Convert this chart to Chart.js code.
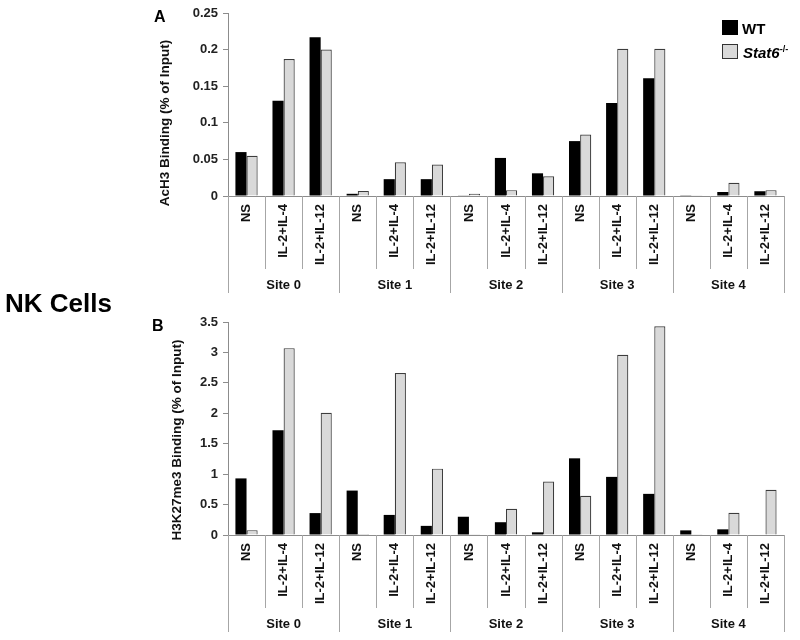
<!DOCTYPE html>
<html>
<head>
<meta charset="utf-8">
<script src="https://cdn.jsdelivr.net/npm/chart.js@4.4.1/dist/chart.umd.min.js"></script>
<style>
  body { margin: 0; background: #fff; width: 800px; height: 640px; position: relative; overflow: hidden;
         font-family: "Liberation Sans", Arial, sans-serif; }
  canvas { position: absolute; left: 0; }
  #chartA { top: 0; }
  #chartB { top: 308px; }
  .lbl { position: absolute; font-weight: bold; line-height: 1; color: #000; white-space: nowrap; }
  .box { position: absolute; width: 16px; height: 15px; box-sizing: border-box; }
</style>
</head>
<body>
<canvas id="chartA" width="800" height="320"></canvas>
<canvas id="chartB" width="800" height="332"></canvas>

<div class="lbl" style="left:154px; top:9px; font-size:16px;">A</div>
<div class="lbl" style="left:152px; top:318px; font-size:16px;">B</div>
<div class="lbl" style="left:5px; top:290px; font-size:26px;">NK Cells</div>

<div class="box" style="left:722px; top:20px; background:#000;"></div>
<div class="lbl" style="left:742px; top:21px; font-size:15px;">WT</div>
<div class="box" style="left:722px; top:44px; background:#d9d9d9; border:1.5px solid #333;"></div>
<div class="lbl" style="left:743px; top:45px; font-size:15px;"><i>Stat6</i><sup style="font-size:9px; vertical-align:6px;">-/-</sup></div>

<script>
const SITES = ['Site 0', 'Site 1', 'Site 2', 'Site 3', 'Site 4'];
const TREATMENTS = ['NS', 'IL-2+IL-4', 'IL-2+IL-12'];
const SERIES = ['WT', 'Stat6-/-'];

// panel A: AcH3 binding (% of input)
const ACH3_WT    = [0.060, 0.130, 0.217, 0.003, 0.023, 0.023, 0.0005, 0.052, 0.031, 0.075, 0.127, 0.161, 0.001, 0.0055, 0.0065];
const ACH3_STAT6 = [0.055, 0.187, 0.200, 0.007, 0.046, 0.043, 0.003, 0.008, 0.027, 0.084, 0.201, 0.201, 0.0005, 0.018, 0.008];
const ACH3_TICKS = [0, 0.05, 0.1, 0.15, 0.2, 0.25];

// panel B: H3K27me3 binding (% of input)
const H3K27_WT    = [0.93, 1.72, 0.36, 0.73, 0.33, 0.15, 0.30, 0.21, 0.044, 1.26, 0.955, 0.676, 0.076, 0.093, 0];
const H3K27_STAT6 = [0.08, 3.07, 2.01, 0.016, 2.66, 1.09, 0.005, 0.43, 0.88, 0.644, 2.96, 3.43, 0.005, 0.366, 0.742];
const H3K27_TICKS = [0, 0.5, 1, 1.5, 2, 2.5, 3, 3.5];

const labels = SITES.flatMap(() => TREATMENTS);

Chart.defaults.font.family = '"Liberation Sans", Arial, sans-serif';
Chart.defaults.font.weight = 'bold';
Chart.defaults.color = '#1a1a1a';

const AXIS_GRAY = '#8c8c8c';
const SEP_GRAY = '#a6a6a6';

// site grouping under the category labels
function siteAxisPlugin() {
    return {
        id: 'siteAxis',
        afterDraw(chart) {
            const { ctx } = chart;
            const x = chart.scales.x;
            const n = labels.length;
            const y0 = x.top;
            const edge = i => i === 0 ? x.left : i === n ? x.right
                : (x.getPixelForValue(i - 1) + x.getPixelForValue(i)) / 2;
            ctx.save();
            ctx.strokeStyle = SEP_GRAY;
            ctx.lineWidth = 1;
            for (let i = 0; i <= n; i++) {
                const px = Math.round(edge(i)) + 0.5;
                const len = i % TREATMENTS.length === 0 ? 97 : 73;
                ctx.beginPath();
                ctx.moveTo(px, y0);
                ctx.lineTo(px, y0 + len);
                ctx.stroke();
            }
            ctx.fillStyle = '#111';
            ctx.font = 'bold 13px "Liberation Sans", Arial';
            ctx.textAlign = 'center';
            ctx.textBaseline = 'middle';
            SITES.forEach((s, k) => {
                const t = TREATMENTS.length;
                const cx = (edge(k * t) + edge(k * t + t)) / 2;
                ctx.fillText(s, cx, y0 + 89);
            });
            ctx.restore();
        }
    };
}

// rotated y title, placed like the original rather than centred on the plot
function yTitlePlugin(text, cx, cy) {
    return {
        id: 'yTitle',
        afterDraw(chart) {
            const { ctx } = chart;
            ctx.save();
            ctx.translate(cx, cy);
            ctx.rotate(-Math.PI / 2);
            ctx.font = 'bold 13.5px "Liberation Sans", Arial';
            ctx.fillStyle = '#111';
            ctx.textAlign = 'center';
            ctx.textBaseline = 'middle';
            ctx.fillText(text, 0, 0);
            ctx.restore();
        }
    };
}

function makeChart(id, wt, stat6, ticks, title, titlePos, padding, xHeight) {
    new Chart(document.getElementById(id).getContext('2d'), {
        type: 'bar',
        plugins: [siteAxisPlugin(), yTitlePlugin(title, titlePos[0], titlePos[1])],
        data: {
            labels: labels,
            datasets: [
                {
                    label: SERIES[0],
                    data: wt,
                    backgroundColor: '#000',
                    borderWidth: 0,
                    categoryPercentage: 0.6,
                    barPercentage: 1
                },
                {
                    label: SERIES[1],
                    data: stat6,
                    backgroundColor: '#d9d9d9',
                    borderColor: '#3c3c3c',
                    borderWidth: 1.2,
                    categoryPercentage: 0.6,
                    barPercentage: 1
                }
            ]
        },
        options: {
            responsive: false,
            animation: false,
            layout: { padding: padding },
            plugins: {
                legend: { display: false },
                tooltip: { enabled: false }
            },
            scales: {
                x: {
                    grid: { display: false, drawTicks: false },
                    border: { display: true, color: AXIS_GRAY, width: 1 },
                    ticks: {
                        autoSkip: false,
                        minRotation: 90,
                        maxRotation: 90,
                        padding: 8,
                        color: '#111',
                        font: { size: 13, weight: 'bold' }
                    },
                    afterFit: s => { s.height = xHeight; }
                },
                y: {
                    min: ticks[0],
                    max: ticks[ticks.length - 1],
                    afterBuildTicks: s => { s.ticks = ticks.map(v => ({ value: v })); },
                    grid: { drawOnChartArea: false, drawTicks: true, tickLength: 5, color: AXIS_GRAY },
                    border: { display: true, color: AXIS_GRAY, width: 1 },
                    ticks: {
                        padding: 5,
                        color: '#222',
                        font: { size: 13, weight: 'bold' },
                        callback: v => String(+v.toFixed(2))
                    },
                    afterFit: s => { s.width = 88; }
                }
            }
        }
    });
}

makeChart('chartA', ACH3_WT, ACH3_STAT6, ACH3_TICKS, 'AcH3 Binding (% of Input)',
    [165, 123], { left: 140, right: 16, top: 13, bottom: 19 }, 105);
makeChart('chartB', H3K27_WT, H3K27_STAT6, H3K27_TICKS, 'H3K27me3 Binding (% of Input)',
    [177, 132], { left: 140, right: 16, top: 14, bottom: 5 }, 100);
</script>
</body>
</html>
